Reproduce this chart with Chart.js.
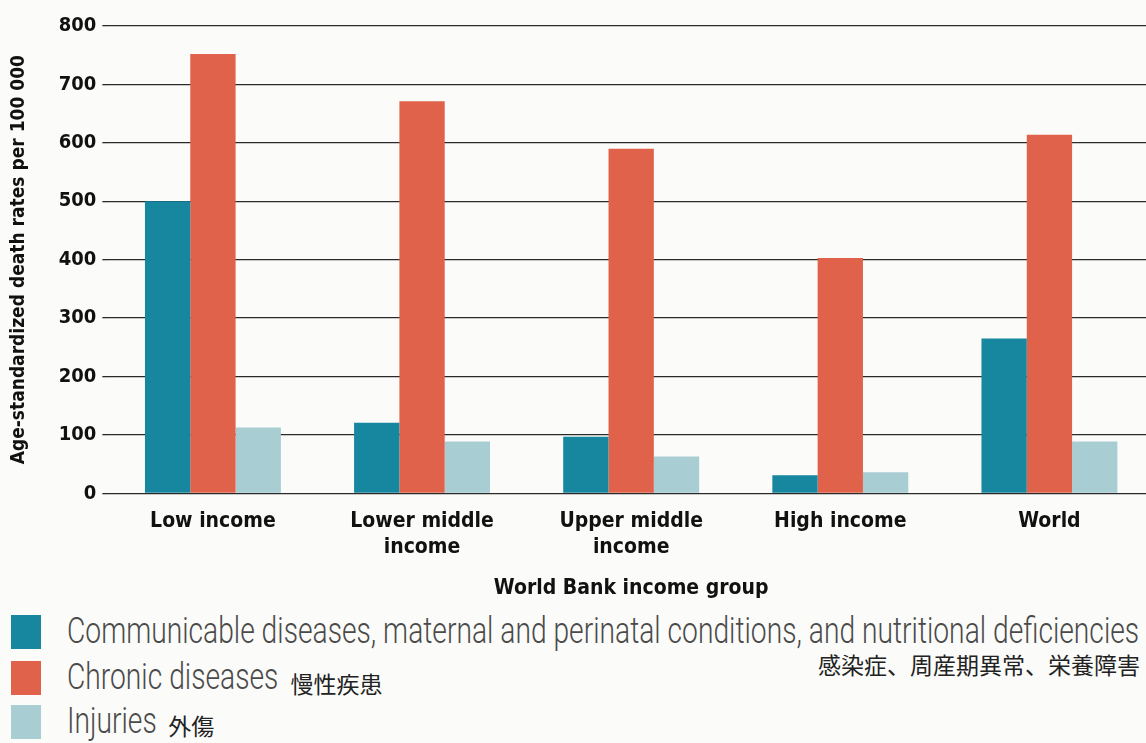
<!DOCTYPE html>
<html>
<head>
<meta charset="utf-8">
<script src="https://cdn.jsdelivr.net/npm/chart.js@4.4.1/dist/chart.umd.min.js"></script>
<style>
  html, body { margin:0; padding:0; background:#fbfbf9; width:1146px; height:743px; overflow:hidden; }
  #wrap { position:absolute; left:0; top:0; width:1154px; height:605px; }
  .leg { position:absolute; font-family:Roboto,"Liberation Sans",sans-serif; font-weight:300; color:#4a4a4a; font-size:36px; white-space:nowrap; transform-origin:0 0; line-height:40px; }
  .sw { position:absolute; width:30px; height:34px; }
  .jp { position:absolute; font-family:"Noto Sans CJK JP",sans-serif; font-size:23px; color:#222; white-space:nowrap; line-height:28px; }
</style>
</head>
<body>
<div id="wrap"><canvas id="c"></canvas></div>
<div id="legend"></div>
<script>
const categories = [["Low income"], ["Lower middle", "income"], ["Upper middle", "income"], ["High income"], ["World"]];
const seriesNames = ["Communicable diseases, maternal and perinatal conditions, and nutritional deficiencies", "Chronic diseases", "Injuries"];
const seriesJP = ["感染症、周産期異常、栄養障害", "慢性疾患", "外傷"];
const communicable = [500, 121, 97, 31, 265];
const chronic = [752, 671, 590, 403, 614];
const injuries = [113, 89, 63, 36, 89];
const colors = ["#17869f", "#e0624a", "#a8cdd3"];
const yTitle = "Age-standardized death rates per 100 000";
const xTitle = "World Bank income group";

const condensed = '"DejaVu Sans Condensed","Liberation Sans",sans-serif';

new Chart(document.getElementById('c'), {
  type: 'bar',
  data: {
    labels: categories,
    datasets: [
      { label: seriesNames[0], data: communicable, backgroundColor: colors[0] },
      { label: seriesNames[1], data: chronic, backgroundColor: colors[1] },
      { label: seriesNames[2], data: injuries, backgroundColor: colors[2] }
    ]
  },
  options: {
    responsive: true,
    maintainAspectRatio: false,
    animation: false,
    layout: { padding: { top: 26, right: 0, left: 8, bottom: 0 } },
    datasets: { bar: { categoryPercentage: 0.65, barPercentage: 1.0 } },
    plugins: { legend: { display: false }, tooltip: { enabled: false } },
    scales: {
      x: {
        grid: { display: false, drawTicks: false },
        border: { display: false },
        ticks: { color: '#111', padding: 16, font: { family: condensed, size: 21, weight: 'bold', lineHeight: 1.2 } },
        title: { display: true, text: xTitle, color: '#111', padding: { top: 0, bottom: 4 }, font: { family: condensed, size: 21, weight: 'bold' } }
      },
      y: {
        min: 0, max: 800,
        ticks: { stepSize: 100, color: '#111', padding: 6, font: { family: condensed, size: 20, weight: 'bold' } },
        grid: { color: '#2a2a2a', lineWidth: 1.3, drawTicks: true, tickLength: 6 },
        border: { display: false },
        title: { display: true, text: yTitle, color: '#111', padding: { top: 0, bottom: 22 }, font: { family: condensed, size: 19, weight: 'bold' } }
      }
    }
  }
});

const leg = document.getElementById('legend');
const rows = [632, 678, 722];
const jpTops = [650, 669, 711];
let scale = 1;
seriesNames.forEach((name, i) => {
  const sw = document.createElement('div');
  sw.className = 'sw';
  sw.style.left = '11px';
  sw.style.top = (rows[i] - 17) + 'px';
  sw.style.background = colors[i];
  leg.appendChild(sw);
  const t = document.createElement('div');
  t.className = 'leg';
  t.style.left = '67px';
  t.style.top = (rows[i] - 21) + 'px';
  t.textContent = name;
  leg.appendChild(t);
  if (i === 0) {
    scale = 1072 / t.offsetWidth;
  }
  t.style.transform = 'scaleX(' + scale + ')';
  const j = document.createElement('div');
  j.className = 'jp';
  j.textContent = seriesJP[i];
  leg.appendChild(j);
  j.style.top = jpTops[i] + 'px';
  if (i === 0) {
    j.style.right = '6px';
  } else {
    j.style.left = (67 + t.offsetWidth * scale + 12) + 'px';
  }
});
</script>
</body>
</html>
